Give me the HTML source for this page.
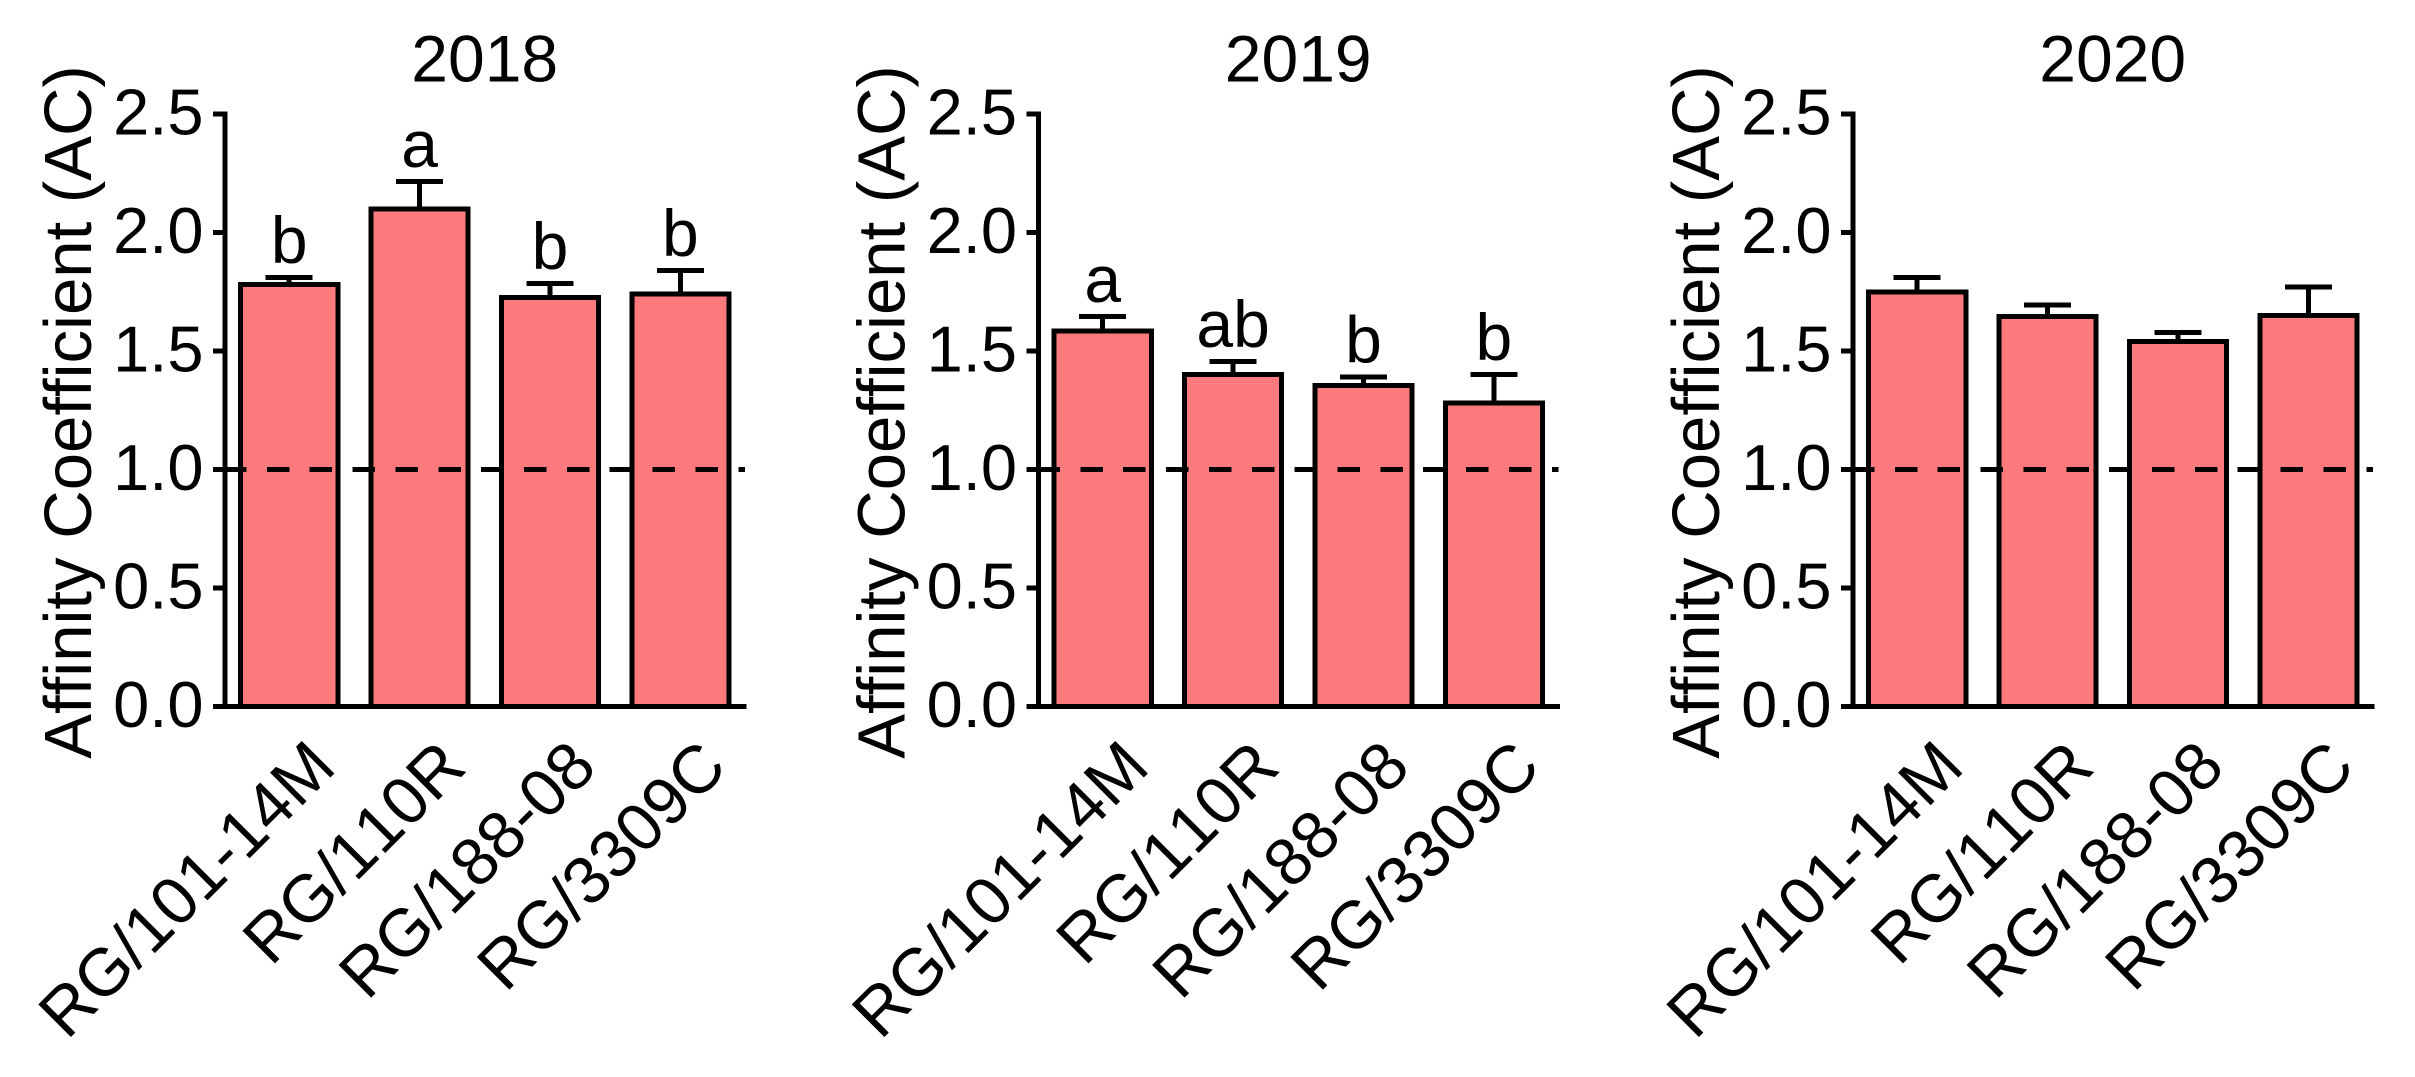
<!DOCTYPE html>
<html>
<head>
<meta charset="utf-8">
<title>Affinity Coefficient 2018-2020</title>
<style>
html,body{margin:0;padding:0;background:#fff;width:2415px;height:1077px;overflow:hidden}
svg{display:block}
text{font-family:"Liberation Sans",Arial,sans-serif;fill:#000;font-kerning:none;font-variant-ligatures:none;font-feature-settings:"liga" 0,"kern" 0}
line,rect{shape-rendering:crispEdges}
</style>
</head>
<body>
<svg id="chart" width="2415" height="1077" viewBox="0 0 2415 1077"></svg>
<script>
const years = ['2018', '2019', '2020'];
const categories = ['RG/101-14M', 'RG/110R', 'RG/188-08', 'RG/3309C'];
const yTicks = [0, 0.5, 1, 1.5, 2, 2.5];
const yTickLabels = ['0.0', '0.5', '1.0', '1.5', '2.0', '2.5'];
const referenceValue = 1;
const yMax = 2.5;
const yTitle = 'Affinity Coefficient (AC)';
const means2018 = [1.78, 2.10, 1.725, 1.74];
const means2019 = [1.585, 1.40, 1.355, 1.28];
const means2020 = [1.75, 1.645, 1.54, 1.65];
const errors2018 = [0.03, 0.115, 0.06, 0.10];
const errors2019 = [0.06, 0.055, 0.036, 0.12];
const errors2020 = [0.06, 0.05, 0.038, 0.12];
const letters2018 = ['b', 'a', 'b', 'b'];
const letters2019 = ['a', 'ab', 'b', 'b'];
const letters2020 = ['', '', '', ''];

const svg = document.getElementById('chart');
const allMeans = [means2018, means2019, means2020];
const allErrors = [errors2018, errors2019, errors2020];
const allLetters = [letters2018, letters2019, letters2020];
const panelOffsets = [0, 813.5, 1628];
const baseY = 706.5, unitY = 237 * 2.5 / yMax;
const ink = '#000', fill = '#ff7a7c', sw = 5;

function yScale(v) { return baseY - unitY * v; }
function xCenter(i, off) { return off + 289.2 + 130.4 * i; }

function make(tag, attrs, parent, txt) {
  const el = document.createElementNS(svg.namespaceURI, tag);
  for (const k in attrs) el.setAttribute(k, attrs[k]);
  if (txt !== undefined) el.textContent = txt;
  parent.appendChild(el);
  return el;
}

years.forEach(function (year, p) {
  const off = panelOffsets[p];
  const axisX = off + 225;
  const endX = off + 746.5;
  const g = make('g', {}, svg);
  
  

  const title = make('text', { x: off + 484.7, y: 81.5, 'font-size': 66, 'text-anchor': 'middle' }, g, year);
  
  

  const yt = make('text', { transform: 'translate(' + (off + 91) + ',' + 412 + ') rotate(-90)', 'font-size': 67.1, 'text-anchor': 'middle' }, g, yTitle);
  
  

  categories.forEach(function (cat, i) {
    const cx = xCenter(i, off);
    const top = yScale(allMeans[p][i]);
    const capY = yScale(allMeans[p][i] + allErrors[p][i]);

    const stem = make('line', { x1: cx, x2: cx, y1: capY, y2: top, stroke: ink, 'stroke-width': sw }, g);
    
    

    const cap = make('line', { x1: cx - 23.5, x2: cx + 23.5, y1: capY, y2: capY, stroke: ink, 'stroke-width': sw }, g);
    
    

    const bar = make('rect', { x: cx - 48.6, y: top, width: 97.2, height: baseY - top, fill: fill, stroke: ink, 'stroke-width': sw }, g);
    
    

    if (allLetters[p][i]) {
      const lt = make('text', { x: cx, y: capY - 14.5, 'font-size': 66, 'text-anchor': 'middle' }, g, allLetters[p][i]);
      
      
    }

    const lx = cx + 49;
    const ly = 769.7;
    const xl = make('text', { transform: 'translate(' + lx + ',' + ly + ') rotate(-45)', 'font-size': 67, 'text-anchor': 'end' }, g, cat);
    
    
  });

  const yAxis = make('line', { x1: axisX, x2: axisX, y1: yScale(yMax) - 2.5, y2: baseY, stroke: ink, 'stroke-width': sw }, g);
  
  

  const xAxis = make('line', { x1: off + 213, x2: endX, y1: baseY, y2: baseY, stroke: ink, 'stroke-width': sw }, g);
  
  

  yTicks.forEach(function (t, k) {
    const ty = yScale(t);
    const tick = make('line', { x1: off + 213, x2: axisX, y1: ty, y2: ty, stroke: ink, 'stroke-width': sw }, g);
    
    

    const lab = make('text', { x: off + 203.5, y: ty + 20.5, 'font-size': 65, 'text-anchor': 'end' }, g, yTickLabels[k]);
    
    
  });

  const ref = make('line', { x1: off + 224, x2: off + 745, y1: yScale(referenceValue), y2: yScale(referenceValue), stroke: ink, 'stroke-width': sw, 'stroke-dasharray': '22.5 20.36' }, g);
  
  
});
</script>
</body>
</html>
